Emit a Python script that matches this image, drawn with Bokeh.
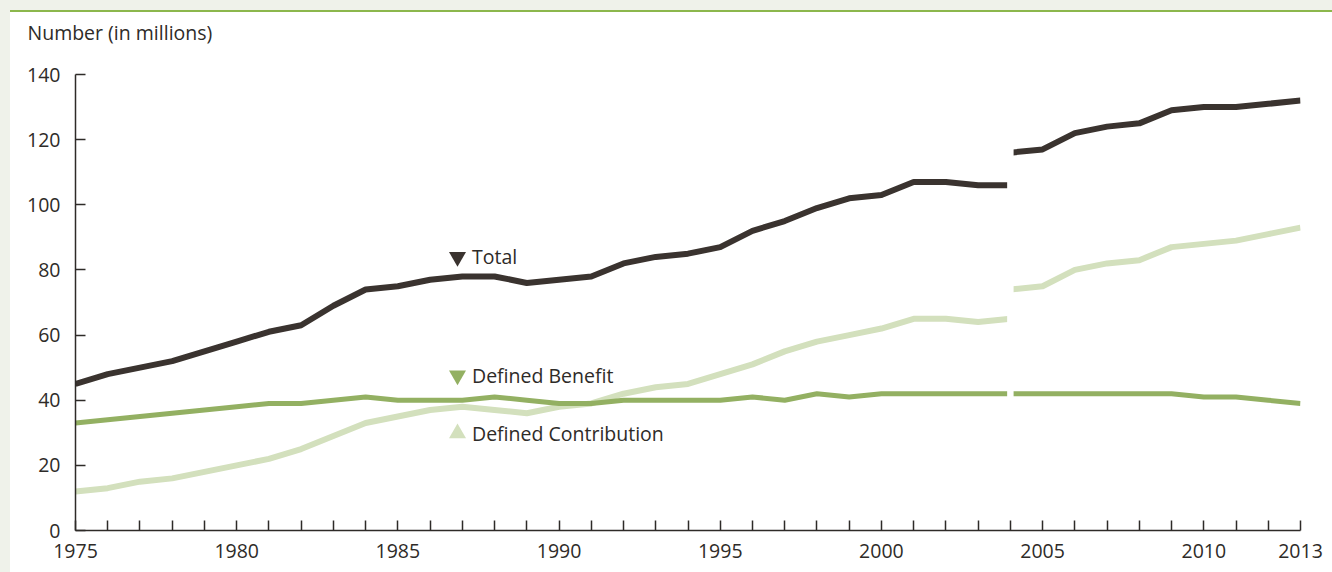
from bokeh.plotting import figure
from bokeh.models import FixedTicker, Title
from bokeh.core.properties import value
from bokeh.embed import file_html
from bokeh.resources import INLINE

# ---- data ----
years_a = list(range(1975, 2005))
years_b = list(range(2004, 2014))
total_a = [45, 48, 50, 52, 55, 58, 61, 63, 69, 74, 75, 77, 78, 78, 76, 77, 78, 82, 84, 85,
           87, 92, 95, 99, 102, 103, 107, 107, 106, 106]
total_b = [116, 117, 122, 124, 125, 129, 130, 130, 131, 132]
db_a = [33, 34, 35, 36, 37, 38, 39, 39, 40, 41, 40, 40, 40, 41, 40, 39, 39, 40, 40, 40,
        40, 41, 40, 42, 41, 42, 42, 42, 42, 42]
db_b = [42, 42, 42, 42, 42, 42, 41, 41, 40, 39]
dc_a = [12, 13, 15, 16, 18, 20, 22, 25, 29, 33, 35, 37, 38, 37, 36, 38, 39, 42, 44, 45,
        48, 51, 55, 58, 60, 62, 65, 65, 64, 65]
dc_b = [74, 75, 80, 82, 83, 87, 88, 89, 91, 93]
break_year = 2004

label_names = ["Total", "Defined Benefit", "Defined Contribution"]
label_x = [1986.85, 1986.85, 1986.85]
label_y = [84, 47.6, 29.8]
label_markers = ["inverted_triangle", "inverted_triangle", "triangle"]

tick_years = list(range(1975, 2014))
labelled_years = [1975, 1980, 1985, 1990, 1995, 2000, 2005, 2010, 2013]
y_ticks = [0, 20, 40, 60, 80, 100, 120, 140]
y_title = "Number (in millions)"

C_TOTAL = "#3a332f"
C_DB = "#93b062"
C_DC = "#d3e0bd"
TXT = "#2e2b28"
FONT = "Open Sans"
FS = "19.5px"

p = figure(width=1332, height=572, output_backend="svg", toolbar_location=None,
           x_range=(1975, 2013), y_range=(0, 140),
           min_border_left=75, min_border_right=32, min_border_top=74, min_border_bottom=42,
           border_fill_color=None, background_fill_color="white",
           outline_line_color=None,
           styles={"background-color": "white",
                   "box-shadow": "inset 10px 10px 0 0 #eff2ea, inset 0 12px 0 0 #8cb74c"})
p.title = None
# spacer between the frame and the axis title
p.add_layout(Title(text=" ", text_font_size="1px", standoff=22), "above")
p.add_layout(Title(text=y_title, align="left", offset=-48,
                   text_font_size=FS, text_font_style="normal", text_font=FONT,
                   text_color=TXT, standoff=8), "above")

p.xgrid.visible = False
p.ygrid.visible = False

# lines
for xs, ys, c, w in [(years_a, dc_a, C_DC, 6), (years_b, dc_b, C_DC, 6),
                     (years_a, db_a, C_DB, 5), (years_b, db_b, C_DB, 5),
                     (years_a, total_a, C_TOTAL, 6), (years_b, total_b, C_TOTAL, 6)]:
    p.line(xs, ys, line_color=c, line_width=w, line_join="round")

# break in series
p.vbar(x=[break_year], width=0.2, bottom=1, top=140, fill_color="white", line_color=None)

# inline labels
for name, lx, ly, mk, c in zip(label_names, label_x, label_y, label_markers, [C_TOTAL, C_DB, C_DC]):
    p.scatter([lx], [ly], marker=mk, size=17, fill_color=c, line_color=None)
    p.text([lx + 0.45], [ly], text=[name], text_font=value(FONT), text_font_size=FS,
           text_color=TXT, text_baseline="middle", text_align="left")

# axes
xa = p.xaxis[0]
xa.ticker = FixedTicker(ticks=tick_years)
xa.major_label_overrides = {y: (str(y) if y in labelled_years else "") for y in tick_years}
ya = p.yaxis[0]
ya.ticker = FixedTicker(ticks=y_ticks)
for ax in (xa, ya):
    ax.axis_line_color = TXT
    ax.axis_line_width = 1.5
    ax.major_tick_line_color = TXT
    ax.major_tick_line_width = 1.5
    ax.major_tick_in = 10
    ax.major_tick_out = 0
    ax.minor_tick_line_color = None
    ax.major_label_text_font = FONT
    ax.major_label_text_font_size = FS
    ax.major_label_text_color = TXT
xa.major_label_standoff = 13
ya.major_label_standoff = 15

open("out.html", "w").write(file_html(p, INLINE))
